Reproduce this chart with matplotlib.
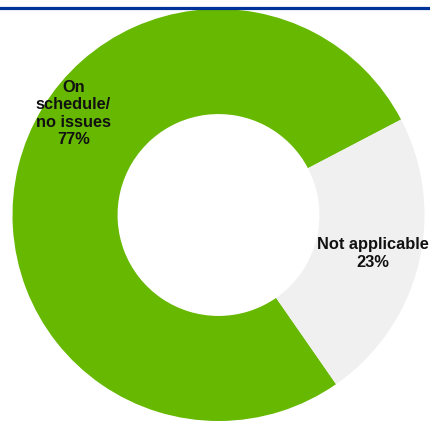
import matplotlib.pyplot as plt
from matplotlib.lines import Line2D

labels = ['On\nschedule/\nno issues\n77%', 'Not applicable\n23%']
values = [77, 23]
colors = ['#66b800', '#f0f0f0']

fig = plt.figure(figsize=(4.30, 4.21), dpi=100)
ax = fig.add_axes([0, 0, 1, 1])

r = 206.0
cx, cy = 218.5, 215.0

wedges, _ = ax.pie(values, colors=colors, startangle=27.6, counterclock=True,
                   radius=1, wedgeprops=dict(width=0.51, linewidth=0))

ax.set_xlim(-cx / r, (430 - cx) / r)
ax.set_ylim(-(421 - cy) / r, cy / r)
ax.set_aspect('equal')
ax.axis('off')

# label positions
ax.text(-0.705, 0.493, labels[0], ha='center', va='center', fontsize=11.8,
        fontweight='bold', family='Liberation Sans', linespacing=1.2,
        color='#111111')
ax.text(0.75, -0.187, labels[1], ha='center', va='center', fontsize=11.8,
        fontweight='bold', family='Liberation Sans', linespacing=1.2,
        color='#111111')

# blue rule along the top
fig.add_artist(Line2D([0, 1], [1 - 7.5 / 421, 1 - 7.5 / 421], color='#003399',
                      linewidth=2.3, transform=fig.transFigure))

fig.savefig('out.png', dpi=100)
